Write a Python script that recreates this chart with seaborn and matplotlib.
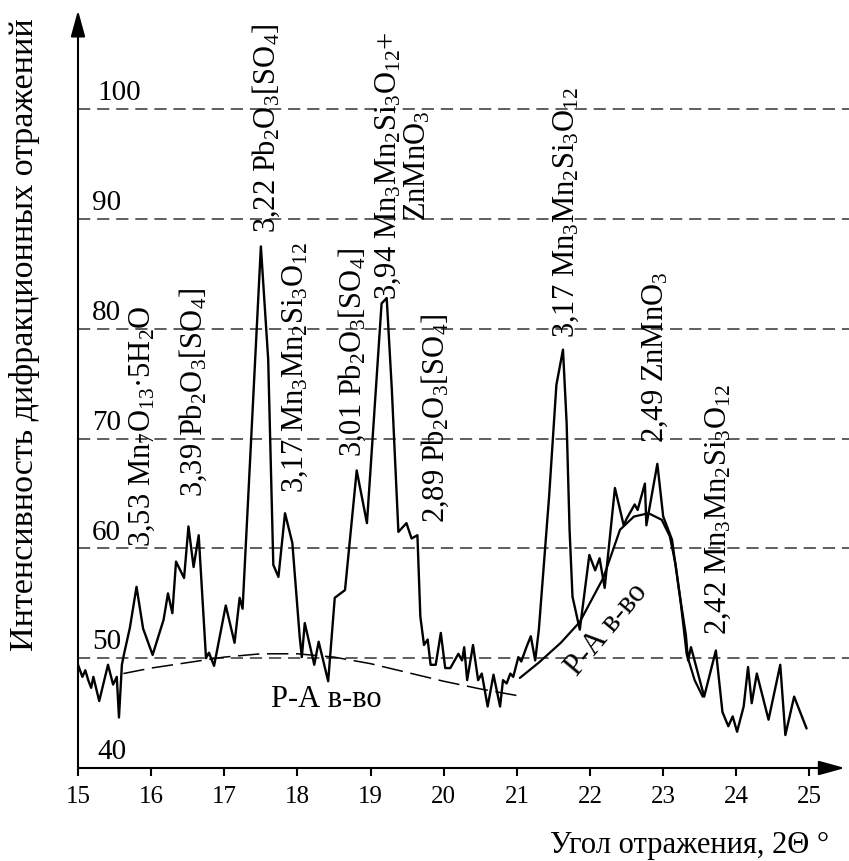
import matplotlib
matplotlib.use("Agg")
import matplotlib.pyplot as plt
import seaborn as sns
import pandas as pd

# ---------------- data ----------------
angle = [15.00, 15.06, 15.10, 15.14, 15.18, 15.21, 15.29, 15.41, 15.48, 15.53,
         15.56, 15.60, 15.63, 15.71, 15.80, 15.89, 16.02, 16.17, 16.23, 16.29,
         16.34, 16.45, 16.51, 16.58, 16.65, 16.75, 16.79, 16.86, 17.02, 17.14,
         17.21, 17.25, 17.50, 17.60, 17.67, 17.74, 17.83, 17.93, 18.03, 18.06,
         18.10, 18.23, 18.29, 18.42, 18.51, 18.65, 18.81, 18.95, 19.15, 19.22,
         19.29, 19.38, 19.49, 19.56, 19.64, 19.68, 19.73, 19.78, 19.82, 19.89,
         19.96, 20.02, 20.09, 20.20, 20.25, 20.28, 20.32, 20.40, 20.47, 20.52,
         20.60, 20.68, 20.77, 20.81, 20.86, 20.91, 20.95, 21.02, 21.06, 21.13,
         21.19, 21.25, 21.30, 21.44, 21.54, 21.63, 21.68, 21.72, 21.76, 21.86,
         21.99, 22.07, 22.13, 22.20, 22.34, 22.46, 22.50, 22.61, 22.65, 22.75,
         22.77, 22.92, 23.00, 23.12, 23.22, 23.31, 23.34, 23.38, 23.56, 23.72,
         23.81, 23.89, 23.95, 24.01, 24.10, 24.16, 24.21, 24.28, 24.44, 24.60,
         24.67, 24.79, 24.96]
intensity = [49.4, 48.3, 48.9, 48.0, 47.3, 48.3, 46.1, 49.4, 47.6, 48.3,
             44.6, 49.4, 50.4, 52.8, 56.5, 52.7, 50.3, 53.5, 55.9, 54.1,
             58.8, 57.3, 62.0, 58.3, 61.2, 50.0, 50.5, 49.3, 54.8, 51.4,
             55.5, 54.5, 87.5, 77.2, 58.5, 57.4, 63.2, 60.5, 52.0, 50.1,
             53.2, 49.4, 51.5, 47.9, 55.5, 56.2, 67.1, 62.3, 82.3, 82.8,
             74.5, 61.5, 62.3, 60.9, 61.2, 53.8, 51.2, 51.7, 49.4, 49.4,
             52.3, 49.1, 49.1, 50.4, 49.8, 51.0, 48.0, 51.2, 48.0, 48.6,
             45.6, 48.5, 45.6, 48.0, 47.7, 48.6, 48.3, 50.1, 49.7, 51.0,
             52.0, 49.8, 52.6, 64.7, 74.9, 78.1, 71.4, 61.7, 55.6, 52.6,
             59.4, 58.0, 59.1, 56.4, 65.5, 62.1, 62.7, 64.0, 63.5, 65.9,
             62.1, 67.7, 62.9, 60.8, 56.0, 52.1, 49.8, 51.0, 46.5, 50.7,
             45.1, 43.8, 44.7, 43.3, 45.6, 49.2, 45.9, 48.6, 44.4, 49.4,
             43.0, 46.5, 43.6]

# amorphous background (dashed, left)
pa1_angle = [15.62, 16.0, 16.5, 17.0, 17.5, 18.0, 18.5, 19.0, 19.5, 20.0, 20.5, 21.0]
pa1_int = [48.6, 49.1, 49.6, 50.1, 50.4, 50.4, 50.1, 49.5, 48.7, 47.9, 47.2, 46.6]

# amorphous hump (solid, right)
pa2_angle = [21.04, 21.30, 21.60, 21.86, 22.18, 22.41, 22.60, 22.80, 22.98, 23.09,
             23.17, 23.23, 23.32, 23.43, 23.54]
pa2_int = [48.2, 49.6, 51.4, 53.3, 57.3, 61.7, 62.9, 63.2, 62.6, 61.1,
           58.5, 55.6, 50.4, 48.0, 46.5]

x_ticks = [15, 16, 17, 18, 19, 20, 21, 22, 23, 24, 25]
y_ticks = [40, 50, 60, 70, 80, 90, 100]
grid_levels = [50, 60, 70, 80, 90, 100]

peak_labels = [
    r"3,53 Mn$_7$O$_{13}$·5H$_2$O",
    r"3,39 Pb$_2$O$_3$[SO$_4$]",
    r"3,22 Pb$_2$O$_3$[SO$_4$]",
    r"3,17 Mn$_3$Mn$_2$Si$_3$O$_{12}$",
    r"3,01 Pb$_2$O$_3$[SO$_4$]",
    r"3,94 Mn$_3$Mn$_2$Si$_3$O$_{12}$+" + "\n" + r"ZnMnO$_3$",
    r"2,89 Pb$_2$O$_3$[SO$_4$]",
    r"3,17 Mn$_3$Mn$_2$Si$_3$O$_{12}$",
    r"2,49 ZnMnO$_3$",
    r"2,42 Mn$_3$Mn$_2$Si$_3$O$_{12}$",
]
peak_label_x = [15.875, 16.58, 17.58, 17.97, 18.75, 19.44, 19.88, 21.67, 22.89, 23.76]
peak_label_y = [60.1, 64.7, 88.7, 65.0, 68.3, 82.6, 62.3, 79.2, 69.6, 52.1]

pa_text = "Р-А в-во"
ylabel = "Интенсивность дифракционных отражений"
xlabel = "Угол отражения, 2Θ °"

# ---------------- style ----------------
sns.set_theme(style="white")
plt.rcParams["font.family"] = ["Liberation Serif", "DejaVu Serif"]
plt.rcParams["mathtext.default"] = "regular"
plt.rcParams["text.color"] = "black"
plt.rcParams["axes.labelcolor"] = "black"
plt.rcParams["xtick.color"] = "black"

W, H = 849, 861
fig = plt.figure(figsize=(W / 100, H / 100), dpi=100)
ax = fig.add_axes([78 / W, 93 / H, (W - 78) / W, 758 / H])
ax.set_xlim(15, 25.54)
ax.set_ylim(40, 109.03)

for s in ax.spines.values():
    s.set_visible(False)

# dashed reference lines
ax.hlines(grid_levels, 15, 25.54, colors="#333333", linewidth=1.1,
          linestyles=(0, (8, 4.5)), zorder=1)

df_main = pd.DataFrame({"angle": angle, "intensity": intensity})
sns.lineplot(data=df_main, x="angle", y="intensity", sort=False, estimator=None,
             color="black", linewidth=1.7, ax=ax, zorder=3)
df_pa1 = pd.DataFrame({"angle": pa1_angle, "intensity": pa1_int})
sns.lineplot(data=df_pa1, x="angle", y="intensity", sort=False, estimator=None,
             color="black", linewidth=1.1, linestyle=(0, (14, 5)), ax=ax, zorder=2)
df_pa2 = pd.DataFrame({"angle": pa2_angle, "intensity": pa2_int})
sns.lineplot(data=df_pa2, x="angle", y="intensity", sort=False, estimator=None,
             color="black", linewidth=1.6, ax=ax, zorder=2)

# axes with arrows
arrow_kw = dict(arrowstyle="-|>,head_length=0.8,head_width=0.22", color="black",
                lw=1.5, mutation_scale=20, shrinkA=0, shrinkB=0)
ax.annotate("", xy=(25.485, 40), xytext=(15, 40), arrowprops=arrow_kw,
            annotation_clip=False)
ax.annotate("", xy=(15, 109.0), xytext=(15, 40), arrowprops=arrow_kw,
            annotation_clip=False)

# ticks
ax.set_xticks(x_ticks)
ax.set_xticklabels([str(t) for t in x_ticks])
ax.tick_params(axis="x", bottom=True, direction="out", length=6, width=1.5,
               labelsize=18, pad=7)
ax.set_yticks([])

# y values written inside the plot above each dashed line
for v in y_ticks:
    xpos = 15.27 if v in (40, 100) else 15.19
    ax.text(xpos, v + 0.8, str(v), fontsize=21, ha="left", va="baseline")

# peak labels
for lab, lx, ly in zip(peak_labels, peak_label_x, peak_label_y):
    ax.text(lx, ly, lab, rotation=90, ha="center", va="bottom",
            multialignment="center", fontsize=22, linespacing=1.0)

ax.text(18.40, 46.2, pa_text, fontsize=22, ha="center", va="center")
ax.text(22.23, 52.57, pa_text, fontsize=22, ha="center", va="center",
        rotation=50, rotation_mode="anchor")

ax.set_ylabel(ylabel, fontsize=24.5, va="center", ha="center")
ax.yaxis.set_label_coords((25 - 78) / (W - 78), (768 - 335) / 758)
ax.set_xlabel(xlabel, fontsize=22, va="center", ha="center")
ax.xaxis.set_label_coords((690 - 78) / (W - 78), (768 - 845) / 758)

fig.savefig("out.png", dpi=100)
